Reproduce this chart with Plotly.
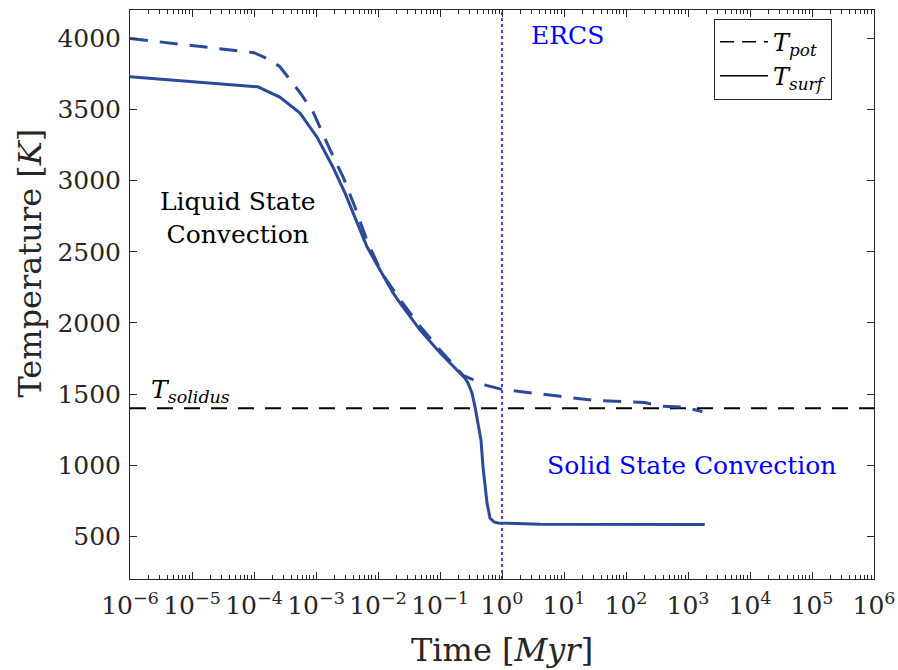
import plotly.graph_objects as go

# Surface temperature T_surf (solid) vs time in Myr
t_surf = [1e-6, 1.15e-4, 2.6e-4, 5.52e-4, 1.04e-3, 1.88e-3, 2.94e-3, 4.26e-3,
          6.65e-3, 1.08e-2, 1.75e-2, 2.26e-2, 4.75e-2, 0.1, 0.234, 0.253, 0.283,
          0.328, 0.367, 0.41, 0.458, 0.494, 0.532, 0.573, 0.64, 0.743, 0.861,
          4.1, 1862]
T_surf = [3730, 3660, 3588, 3475, 3306, 3095, 2913, 2744,
          2535, 2373, 2211, 2141, 1951, 1790, 1622, 1612, 1578,
          1508, 1410, 1297, 1178, 988, 875, 735, 629, 601, 594,
          585, 583]

# Potential temperature T_pot (dashed) vs time in Myr
t_pot = [1e-6, 1e-4, 1.5e-4, 2.6e-4, 5.5e-4, 8.7e-4, 1.7e-3, 2.75e-3,
         4.26e-3, 6.6e-3, 1.15e-2, 2.26e-2, 4.8e-2, 0.1, 0.235, 0.54, 1.0,
         2.34, 8.7, 29.5, 200, 355, 832, 1450, 1700]
T_pot = [4000, 3900, 3866, 3803, 3620, 3496, 3214, 3024,
         2813, 2582, 2350, 2165, 1975, 1810, 1632, 1563, 1533,
         1512, 1484, 1456, 1441, 1416, 1409, 1385, 1376]

T_solidus = 1400
t_ercs = 1.0

x_tickvals = [1e-6, 1e-5, 1e-4, 1e-3, 1e-2, 1e-1, 1e0, 1e1, 1e2, 1e3, 1e4, 1e5, 1e6]
x_ticktext = ["10<sup>\u22126</sup>", "10<sup>\u22125</sup>", "10<sup>\u22124</sup>",
              "10<sup>\u22123</sup>", "10<sup>\u22122</sup>", "10<sup>\u22121</sup>",
              "10<sup>0</sup>", "10<sup>1</sup>", "10<sup>2</sup>", "10<sup>3</sup>",
              "10<sup>4</sup>", "10<sup>5</sup>", "10<sup>6</sup>"]
y_tickvals = [500, 1000, 1500, 2000, 2500, 3000, 3500, 4000]

# minor log ticks at 2..9 within each decade
x_minor = [m * d for d in x_tickvals[:-1] for m in range(2, 10)]

FONT = "DejaVu Serif"
AX = "#262626"
BLUE = "#2B4A9A"

fig = go.Figure()

# solidus reference line
fig.add_trace(go.Scatter(x=[1e-6, 1e6], y=[T_solidus, T_solidus], mode="lines",
                         line=dict(color="black", width=2, dash="16px,11px"),
                         showlegend=False, hoverinfo="skip"))
# end of rapid cooling stage marker
fig.add_trace(go.Scatter(x=[t_ercs, t_ercs], y=[200, 4200], mode="lines",
                         line=dict(color="#0000FF", width=1.5, dash="dot"),
                         showlegend=False, hoverinfo="skip"))

fig.add_trace(go.Scatter(x=t_pot, y=T_pot, mode="lines",
                         line=dict(color=BLUE, width=3, dash="18px,12px"),
                         showlegend=False))
fig.add_trace(go.Scatter(x=t_surf, y=T_surf, mode="lines",
                         line=dict(color=BLUE, width=3),
                         showlegend=False))

# legend entries drawn in black
fig.add_trace(go.Scatter(x=[None], y=[None], mode="lines",
                         line=dict(color="black", width=1.5, dash="14px,8px"),
                         name="<i>T<sub>pot</sub></i>"))
fig.add_trace(go.Scatter(x=[None], y=[None], mode="lines",
                         line=dict(color="black", width=1.5),
                         name="<i>T<sub>surf</sub></i>"))

fig.update_layout(
    width=898, height=670,
    margin=dict(l=130, r=24, t=10, b=91),
    paper_bgcolor="white", plot_bgcolor="white",
    font=dict(family=FONT, size=25, color=AX),
    legend=dict(x=0.785, y=0.985, xanchor="left", yanchor="top",
                bgcolor="white", bordercolor=AX, borderwidth=1,
                font=dict(family=FONT, size=24, color="black"),
                itemwidth=48, tracegroupgap=0),
)

fig.update_xaxes(
    type="log", range=[-6, 6],
    tickmode="array", tickvals=x_tickvals, ticktext=x_ticktext, tickangle=0,
    ticks="inside", ticklen=7, tickcolor=AX, tickwidth=1, ticklabelstandoff=4,
    minor=dict(tickmode="array", tickvals=x_minor, ticks="inside", ticklen=4,
               tickcolor=AX, showgrid=False),
    showline=True, linecolor=AX, linewidth=1, mirror="ticks",
    showgrid=False, zeroline=False, automargin=False,
    tickfont=dict(family=FONT, size=25, color=AX),
)
fig.update_yaxes(
    range=[200, 4200],
    tickvals=y_tickvals,
    ticks="inside", ticklen=7, tickcolor=AX, tickwidth=1, ticklabelstandoff=3,
    showline=True, linecolor=AX, linewidth=1, mirror="ticks",
    showgrid=False, zeroline=False, automargin=False,
    tickfont=dict(family=FONT, size=25, color=AX),
)

annotations = [
    dict(text="Liquid State<br>Convection", x=-4.26, y=2737, xref="x", yref="y",
         showarrow=False, font=dict(family=FONT, size=25, color="black")),
    dict(text="ERCS", x=1.05, y=4020, xref="x", yref="y",
         showarrow=False, font=dict(family=FONT, size=25, color="#0000FF")),
    dict(text="Solid State Convection", x=3.05, y=1000, xref="x", yref="y",
         showarrow=False, font=dict(family=FONT, size=25, color="#0000FF")),
    dict(text="<i>T<sub>solidus</sub></i>", x=-5.7, y=1520, xref="x", yref="y",
         xanchor="left", showarrow=False, font=dict(family=FONT, size=25, color="black")),
    dict(text="Time [<i>Myr</i>]", x=0.5, y=-0.125, xref="paper", yref="paper",
         xanchor="center", yanchor="middle", showarrow=False,
         font=dict(family=FONT, size=32, color=AX)),
    dict(text="Temperature [<i>K</i>]", x=-0.134, y=0.555, xref="paper", yref="paper",
         xanchor="center", yanchor="middle", textangle=-90, showarrow=False,
         font=dict(family=FONT, size=32, color=AX)),
]
fig.update_layout(annotations=annotations)

fig.write_html("out.html")
